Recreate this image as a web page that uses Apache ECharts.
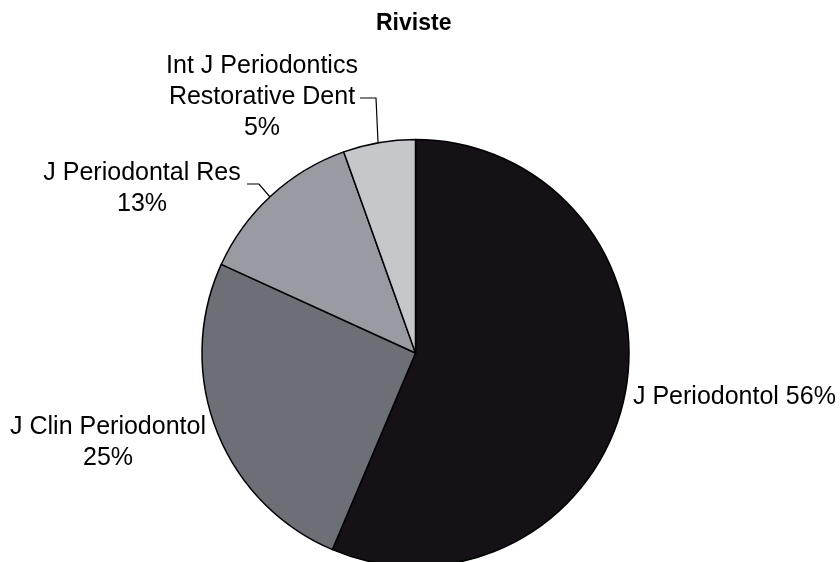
<!DOCTYPE html>
<html>
<head>
<meta charset="utf-8">
<script src="https://cdn.jsdelivr.net/npm/echarts@6/dist/echarts.min.js"></script>
<style>html,body{margin:0;padding:0;background:#fff}#chart{width:840px;height:562px}</style>
</head>
<body>
<div id="chart"></div>
<script>
// Data (counts per journal)
const categories = ['J Periodontol', 'J Clin Periodontol', 'J Periodontal Res', 'Int J Periodontics\nRestorative Dent'];
const counts = [31, 14, 7, 3];
const colors = ['#151117', '#6c6f76', '#989ba1', '#c5c7ca'];

const total = counts.reduce((a, b) => a + b, 0);
const pct = v => Math.round(v / total * 100) + '%';

// label placement (layout only)
const labelPos = [
  { x: 633, y: 397, align: 'left' },
  { x: 108, y: 443, align: 'center' },
  { x: 142, y: 189, align: 'center', line: [[270, 197], [259, 184], [247, 184]] },
  { x: 262, y: 97.5, align: 'center', line: [[378, 142], [376, 98], [360, 98]] }
];

const chart = echarts.init(document.getElementById('chart'), null, { renderer: 'canvas' });
chart.setOption({
  animation: false,
  backgroundColor: '#fff',
  title: {
    text: 'Riviste',
    left: 376,
    top: 12,
    padding: 0,
    textStyle: { fontFamily: 'Liberation Sans, Arial, sans-serif', fontSize: 23, fontWeight: 'bold', color: '#000' }
  },
  series: [{
    type: 'pie',
    center: [415.5, 353],
    radius: 213.5,
    startAngle: 90,
    clockwise: true,
    avoidLabelOverlap: false,
    itemStyle: { borderColor: '#000', borderWidth: 1.5 },
    label: {
      show: true,
      position: 'outside',
      fontFamily: 'Liberation Sans, Arial, sans-serif',
      fontSize: 25,
      lineHeight: 31,
      color: '#000',
      formatter: p => p.dataIndex === 0 ? p.name + ' ' + pct(p.value) : p.name + '\n' + pct(p.value)
    },
    labelLine: { show: true, lineStyle: { color: '#000', width: 1.2 } },
    labelLayout: function (params) {
      const lp = labelPos[params.dataIndex];
      const r = { x: lp.x, y: lp.y, align: lp.align, verticalAlign: 'middle' };
      if (lp.line) r.labelLinePoints = lp.line;
      return r;
    },
    data: categories.map((c, i) => ({
      name: c,
      value: counts[i],
      itemStyle: { color: colors[i] },
      labelLine: { show: i >= 2 }
    }))
  }]
});
</script>
</body>
</html>
